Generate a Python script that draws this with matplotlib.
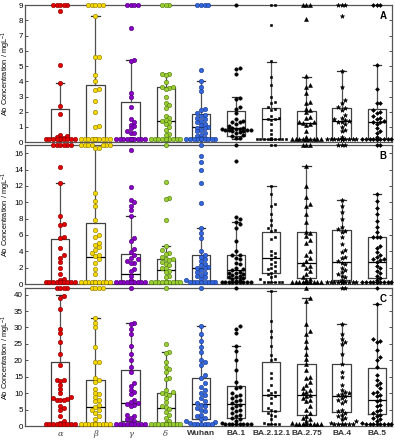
import numpy as np
import matplotlib
matplotlib.use('Agg')
import matplotlib.pyplot as plt

# Grupos (eje x)
groups = ['α', 'β', 'γ', 'δ', 'Wuhan', 'BA.1', 'BA.2.12.1', 'BA.2.75', 'BA.4', 'BA.5']

# PANEL A (valores en mg/L, los de arriba estan recortados en 9)
a_alpha = [9]*5 + [8.65, 5.1, 3.9, 2.4, 1.85, 0.5, 0.4, 0.35, 0.3, 0.25] + [0.2]*14
a_beta = [9]*5 + [8.3, 5.6, 5.6, 4.4, 4.0, 3.5, 3.4, 2.7, 2.0, 1.05, 1.0] + [0.2]*16
a_gamma = [9]*4 + [7.5, 5.4, 5.35, 3.25, 2.95, 2.3, 1.5, 1.35, 1.15, 1.05, 0.9, 0.75, 0.6, 0.6] + [0.2]*18
a_delta = [9]*3 + [4.5, 4.45, 4.4, 3.95, 3.65, 3.6, 3.55, 3.5, 3.0, 2.55, 2.45, 2.25, 1.7, 1.6,
                   1.45, 1.4, 1.35, 1.2, 1.0, 0.8, 0.55, 0.5] + [0.2]*14
a_wuhan = [9]*4 + [4.75, 4.0, 3.6, 3.35, 2.2, 2.1, 1.9, 1.8, 1.7, 1.6, 1.5, 1.4, 1.3, 1.2, 1.1,
                   1.0, 0.95, 0.9, 0.8, 0.7, 0.6, 0.5, 0.4, 0.3, 0.25] + [0.2]*10
a_ba1 = [9, 4.9, 4.8, 4.45, 2.9, 2.85, 2.3, 2.15, 1.9, 1.5, 1.4, 1.35, 1.3, 1.2, 1.05, 0.95, 0.9,
         0.88, 0.85, 0.85, 0.82, 0.8, 0.8, 0.78, 0.75, 0.7, 0.65, 0.6, 0.5, 0.4, 0.3, 0.3]
a_ba212 = [9]*2 + [7.7, 5.35, 4.3, 3.75, 3.0, 2.65, 2.6, 2.3, 2.2, 2.1, 1.7, 1.6, 1.55, 1.5, 1.45,
                   1.2, 0.8, 0.55, 0.3] + [0.2]*16
a_ba275 = [9]*3 + [8.1, 4.35, 3.75, 3.6, 3.2, 2.65, 2.6, 2.2, 2.1, 1.95, 1.65, 1.6, 1.35, 1.3,
                   1.25, 1.2, 1.15, 0.7, 0.35] + [0.2]*18
a_ba4 = [9]*3 + [8.3, 4.7, 3.6, 2.8, 2.6, 2.3, 2.25, 2.1, 1.8, 1.6, 1.5, 1.45, 1.4, 1.35, 1.3,
                 1.2, 1.0, 0.8, 0.7, 0.35] + [0.2]*16
a_ba5 = [9]*3 + [5.1, 3.5, 2.6, 2.55, 2.1, 2.0, 1.9, 1.7, 1.6, 1.5, 1.4, 1.35, 1.3, 1.2, 0.9,
                 0.7, 0.6, 0.35] + [0.2]*16
q1_a = [0.2, 0.2, 0.2, 0.2, 0.2, 0.4, 0.2, 0.2, 0.2, 0.2]
med_a = [0.2, 0.2, 0.2, 1.4, 1.0, 0.9, 1.5, 1.25, 1.4, 1.3]
q3_a = [2.15, 3.75, 2.65, 3.6, 1.85, 2.05, 2.25, 2.05, 2.25, 2.2]
whi_a = [3.9, 8.3, 5.4, 4.5, 4.0, 3.0, 5.3, 4.3, 4.7, 5.1]
wlo_a = [0.2]*10

# PANEL B (recortados en 17)
b_alpha = [17]*6 + [14.3, 12.3, 8.3, 7.3, 7.2, 5.7, 5.6, 4.35, 3.5, 3.2, 2.7, 1.9, 1.25, 0.6, 0.5] + [0.3]*14
b_beta = [17]*7 + [16.6, 16.6, 11.1, 10.1, 9.5, 7.8, 6.6, 6.0, 5.8, 5.0, 4.8, 4.5, 4.2, 3.8, 3.5,
                   3.4, 3.0, 2.6, 1.8, 1.2] + [0.3]*12
b_gamma = [16.4, 11.9, 10.3, 10.0, 9.6, 9.0, 8.3, 5.6, 5.2, 4.3, 3.9, 3.5, 3.2, 3.0, 2.8, 2.6,
           2.6, 1.8, 1.6, 1.0, 0.5] + [0.3]*18
b_delta = [17, 12.5, 10.5, 10.35, 7.8, 4.6, 4.1, 3.8, 3.7, 3.3, 3.1, 3.0, 2.9, 2.7, 2.5, 2.3, 2.0,
           1.9, 1.6, 1.5, 1.0, 0.9] + [0.3]*14
b_wuhan = [17, 15.7, 14.9, 14.0, 12.4, 9.9, 6.9, 6.2, 5.6, 4.0, 3.6, 3.3, 3.0, 2.8, 2.5, 2.3, 2.1,
           2.0, 1.9, 1.7, 1.5, 1.3, 1.1, 1.0, 0.8, 0.6, 0.5] + [0.3]*8
b_ba1 = [17, 15.1, 8.2, 7.9, 7.6, 7.3, 6.9, 5.2, 4.0, 3.6, 3.5, 3.2, 3.0, 2.6, 2.4, 2.0, 1.8, 1.7,
         1.5, 1.4, 1.3, 1.2, 1.1, 1.0, 0.9, 0.8, 0.7, 0.6, 0.5, 0.4] + [0.3]*10
b_ba212 = [17]*2 + [12.0, 11.0, 9.8, 9.5, 8.6, 7.8, 7.2, 6.8, 6.6, 6.5, 5.8, 5.5, 4.0, 3.8, 3.5,
                    3.3, 3.0, 2.7, 2.5, 2.2, 2.0, 1.8, 1.6, 1.4, 1.2, 1.0, 0.8, 0.6] + [0.3]*6
b_ba275 = [17]*3 + [14.4, 12.0, 10.6, 9.8, 9.5, 8.6, 7.6, 6.4, 6.2, 5.9, 5.4, 5.0, 4.0, 3.6, 3.2,
                    2.8, 2.4, 2.2, 2.0, 1.6, 1.2, 0.8, 0.6, 0.5] + [0.3]*12
b_ba4 = [17]*3 + [10.3, 9.6, 8.8, 8.0, 7.0, 6.7, 6.5, 6.3, 5.7, 4.9, 4.1, 3.9, 3.3, 3.2, 2.8, 2.6,
                  2.4, 2.0, 1.7, 1.5, 1.2, 1.0, 0.8, 0.5] + [0.3]*14
b_ba5 = [17]*2 + [11.0, 10.2, 9.3, 8.5, 7.7, 7.0, 6.4, 5.8, 5.8, 5.7, 4.6, 4.4, 3.9, 3.6, 3.3, 3.1,
                  3.0, 2.9, 2.7, 2.2, 1.9, 1.6, 1.3, 1.0, 0.7, 0.5] + [0.3]*12
q1_b = [0.3, 0.3, 0.3, 0.3, 0.3, 0.7, 1.3, 0.75, 0.5, 0.7]
med_b = [0.3, 3.35, 1.2, 1.7, 1.95, 1.75, 3.15, 2.55, 2.7, 2.7]
q3_b = [5.5, 7.4, 3.7, 3.1, 3.55, 3.6, 6.4, 6.3, 6.6, 5.7]
whi_b = [12.3, 17, 8.3, 4.6, 6.9, 7.55, 12.0, 14.4, 10.3, 11.0]
wlo_b = [0.3]*10

# PANEL C (recortados en 42)
c_alpha = [42]*4 + [39.7, 39.0, 35.5, 29.4, 28.2, 25.5, 22.0, 18.6, 14.0, 13.9, 13.8, 12.5, 11.4,
                    10.0, 8.8, 8.5, 8.2, 8.0, 8.0, 7.9, 6.2, 5.4, 5.0, 3.0, 1.6, 1.0] + [0.5]*12
c_beta = [42]*4 + [33.0, 31.5, 30.0, 24.2, 19.6, 19.5, 14.5, 14.0, 13.3, 11.2, 10.0, 9.8, 8.8, 8.0,
                   7.5, 6.3, 5.8, 5.0, 4.9, 4.0, 3.0, 2.2, 1.0] + [0.5]*12
c_gamma = [42, 31.4, 31.0, 29.5, 28.0, 24.5, 22.0, 20.0, 18.0, 16.5, 13.2, 12.3, 11.0, 10.5, 9.8,
           8.0, 7.3, 7.0, 6.8, 6.5, 6.0, 3.3, 3.0, 2.5, 2.0, 1.5, 1.0] + [0.5]*10
c_delta = [42, 25.0, 22.5, 22.3, 19.5, 18.0, 17.5, 16.5, 14.5, 14.3, 11.0, 10.5, 10.0, 9.6, 9.5,
           8.5, 7.3, 6.0, 5.8, 5.2, 4.2, 3.5, 2.5, 1.5, 1.0] + [0.5]*12
c_wuhan = [42, 30.5, 28.0, 26.0, 24.0, 22.5, 20.0, 19.5, 18.5, 15.5, 14.5, 13.0, 12.0, 11.0, 10.0,
           9.5, 8.5, 7.5, 7.0, 6.5, 6.0, 5.5, 5.0, 4.5, 3.5, 3.0, 2.5, 2.0, 1.5, 1.2, 1.0] + [0.5]*6
c_ba1 = [42, 30.5, 29.5, 28.2, 24.3, 22.8, 20.0, 17.0, 13.5, 12.0, 11.5, 10.0, 9.5, 9.0, 8.5, 8.0,
         7.5, 7.0, 6.5, 6.0, 5.5, 5.0, 4.5, 4.0, 3.5, 3.0, 2.5, 2.0, 1.5, 1.0] + [0.5]*8
c_ba212 = [41.2, 32.0, 29.0, 27.0, 24.5, 21.5, 20.5, 20.0, 16.0, 14.5, 12.5, 11.0, 10.5, 10.0, 9.5,
           9.0, 8.5, 7.0, 5.5, 5.0, 4.5, 4.0, 3.5, 3.0, 2.0, 1.0] + [0.5]*4
c_ba275 = [42, 39.0, 38.0, 31.0, 29.0, 28.0, 26.0, 24.0, 22.0, 20.5, 19.0, 17.0, 15.0, 14.5, 13.5,
           12.5, 11.5, 11.0, 10.5, 10.0, 9.5, 9.0, 8.5, 8.0, 7.5, 6.0, 5.0, 4.0, 3.0, 2.5, 2.0,
           1.5, 1.0] + [0.5]*8
c_ba4 = [42]*2 + [31.2, 28.0, 26.5, 25.5, 25.0, 22.0, 19.0, 16.5, 15.0, 12.5, 11.0, 10.5, 10.0, 9.7,
                  9.3, 9.0, 8.5, 8.0, 7.5, 7.0, 5.0, 4.5, 4.0, 3.5, 3.0, 2.5, 2.0, 1.5, 1.0] + [0.5]*6
c_ba5 = [42, 37.2, 26.5, 26.0, 25.5, 23.0, 21.0, 20.0, 18.0, 15.5, 14.0, 13.0, 12.5, 11.5, 10.5,
         10.0, 9.5, 9.0, 8.0, 7.5, 6.5, 6.0, 5.0, 4.5, 4.0, 3.5, 3.0, 2.5, 2.0, 1.5, 1.0] + [0.5]*8
q1_c = [0.6, 0.5, 1.6, 0.5, 2.0, 2.35, 4.6, 3.3, 4.2, 3.6]
med_c = [8.2, 5.8, 7.0, 5.5, 6.75, 6.75, 9.4, 9.4, 9.1, 8.0]
q3_c = [19.5, 14.1, 16.9, 10.0, 14.5, 12.1, 19.5, 18.8, 18.9, 17.6]
whi_c = [40.0, 32.8, 31.5, 22.5, 30.5, 24.3, 41.2, 39.0, 31.2, 37.2]
wlo_c = [0.5]*10

# Estilos de marcadores
face = ['#e00000', '#f5d800', '#8a00c8', '#9acd32', '#3366dd'] + ['black']*5
edge = ['#8a0000', '#8a7600', '#4a006e', '#4f7a10', '#1a3a8a'] + ['black']*5
mk = ['o', 'o', 'o', 'o', 'o', 'o', 's', '^', '*', 'D']
msz = [10, 10, 10, 10, 10, 6, 4, 8, 10, 4]

plt.rcParams['font.family'] = ['Liberation Sans', 'DejaVu Sans']
plt.rcParams['mathtext.fontset'] = 'custom'
plt.rcParams['mathtext.rm'] = 'Liberation Sans'


def swarm(vals, ppu_y, ppu_x=35.0, d=3.6, maxw=0.42):
    # offsets horizontales tipo beeswarm (en unidades de datos)
    vals = np.asarray(vals, float)
    order = np.argsort(vals)
    off = np.zeros(len(vals))
    placed = []
    nmax = int(maxw * ppu_x / d)
    cands = [0.0]
    for k in range(1, nmax + 1):
        cands += [k * d, -k * d]
    for i in order:
        y = vals[i] * ppu_y
        best, bestd = 0.0, -1
        for c in cands:
            if placed:
                dist = min(np.hypot(c - px, y - py) for px, py in placed)
            else:
                dist = 99
            if dist >= d:
                best = c
                break
            if dist > bestd:
                best, bestd = c, dist
        placed.append((best, y))
        off[i] = best / ppu_x
    return off


fig = plt.figure(figsize=(3.95, 4.4), dpi=100)
panels = [
    ([a_alpha, a_beta, a_gamma, a_delta, a_wuhan, a_ba1, a_ba212, a_ba275, a_ba4, a_ba5],
     q1_a, med_a, q3_a, whi_a, wlo_a, 9, np.arange(0, 10, 1), 'A', [0.0633, 0.677, 0.929, 0.311]),
    ([b_alpha, b_beta, b_gamma, b_delta, b_wuhan, b_ba1, b_ba212, b_ba275, b_ba4, b_ba5],
     q1_b, med_b, q3_b, whi_b, wlo_b, 17, np.arange(0, 17, 2), 'B', [0.0633, 0.3545, 0.929, 0.316]),
    ([c_alpha, c_beta, c_gamma, c_delta, c_wuhan, c_ba1, c_ba212, c_ba275, c_ba4, c_ba5],
     q1_c, med_c, q3_c, whi_c, wlo_c, 42, np.arange(0, 41, 5), 'C', [0.0633, 0.0318, 0.929, 0.3136]),
]

for n, (data, q1, med, q3, whi, wlo, ytop, yt, letter, rect) in enumerate(panels):
    ax = fig.add_axes(rect)
    pos = np.arange(1, 11)
    stats = [dict(med=med[i], q1=q1[i], q3=q3[i], whislo=wlo[i], whishi=whi[i], fliers=[])
             for i in range(10)]
    ax.bxp(stats, positions=pos, widths=0.52, capwidths=0.24, showfliers=False,
           boxprops=dict(color='#404040', lw=0.9),
           whiskerprops=dict(color='#505050', lw=0.9),
           capprops=dict(color='#303030', lw=0.9),
           medianprops=dict(color='black', lw=0.9), zorder=2)
    ppu_y = rect[3] * 440 / ytop
    for i, vals in enumerate(data):
        xo = swarm(vals, ppu_y)
        ax.scatter(pos[i] + xo, vals, s=msz[i], marker=mk[i], c=face[i], edgecolors=edge[i],
                   linewidths=0.4, zorder=3, clip_on=False)
    ax.set_xlim(0, 10.43)
    ax.set_ylim(0, ytop)
    ax.set_yticks(yt)
    ax.tick_params(axis='y', direction='in', length=2.5, width=0.6, labelsize=5.8, pad=1.5,
                   right=True, colors='#333333', labelcolor='black')
    ax.tick_params(axis='x', length=0, labelsize=6, pad=3)
    ax.set_xticks(pos)
    if n == 2:
        ax.set_xticklabels(groups)
        for j, lab in enumerate(ax.get_xticklabels()):
            if j < 4:
                lab.set_family('DejaVu Serif')
                lab.set_style('italic')
                lab.set_color('#444444')
            else:
                lab.set_fontweight('bold')
                lab.set_color('#333333')
    else:
        ax.set_xticklabels([])
    for s in ax.spines.values():
        s.set_color('#555555')
        s.set_linewidth(0.9)
    ax.set_ylabel('Ab Concentration / mgL$^{-1}$', fontsize=5.3)
    ax.yaxis.set_label_coords(-0.034, 0.5)
    ax.text(0.985, 0.955, letter, transform=ax.transAxes, ha='right', va='top',
            fontsize=7, fontweight='bold')

plt.savefig('out.png', dpi=100)
